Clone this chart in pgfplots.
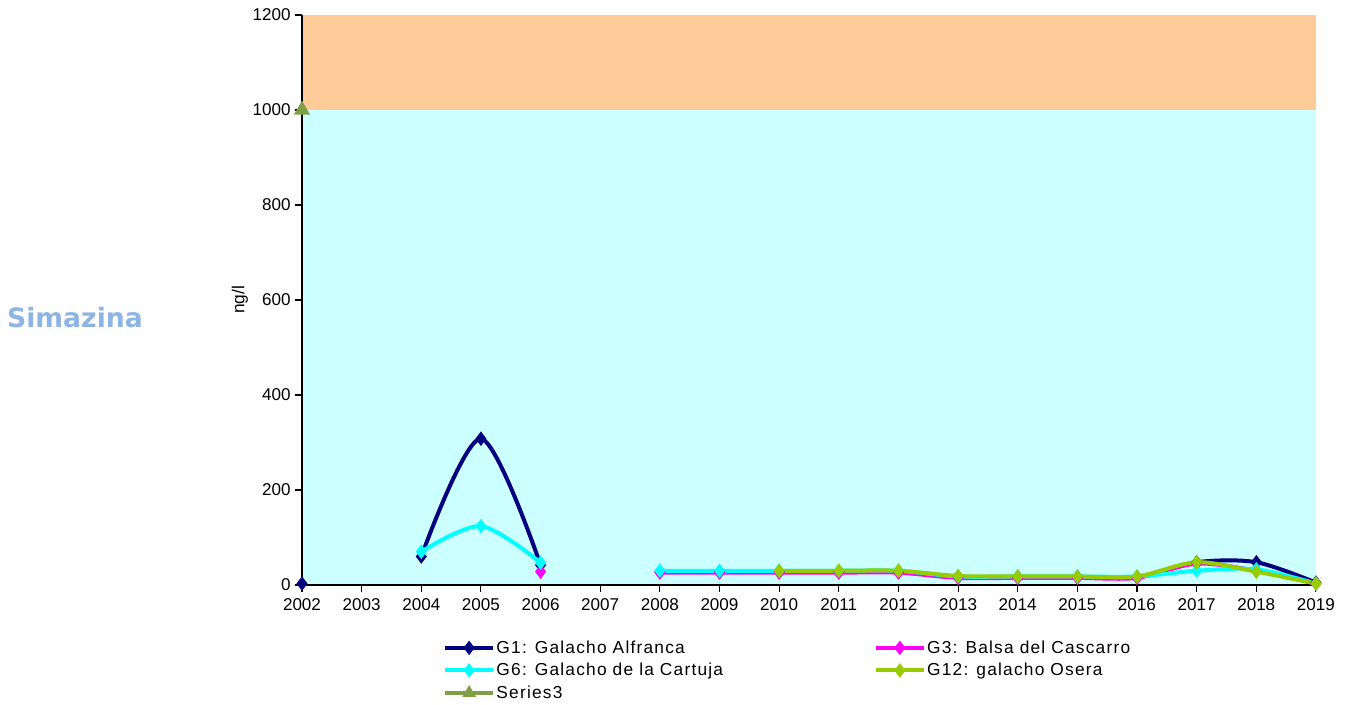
\documentclass[border=0pt]{standalone}
\usepackage{pgfplots}
\pgfplotsset{compat=1.18}
\usepackage{fontspec}
\setmainfont{Liberation Sans}
\newfontfamily\titlefont{DejaVu Sans}
\definecolor{gnavy}{HTML}{000080}
\definecolor{gmag}{HTML}{FF00FF}
\definecolor{gcyan}{HTML}{00FFFF}
\definecolor{glime}{HTML}{99CC00}
\definecolor{golive}{HTML}{7E9F46}
\definecolor{bgcyan}{HTML}{CCFFFF}
\definecolor{bgpeach}{HTML}{FFCC99}
\definecolor{titleblue}{HTML}{8DB4E2}

\begin{document}
\begin{tikzpicture}
\begin{axis}[
    set layers,
    scale only axis,
    width=760.5pt, height=427.5pt,
    xmin=2002, xmax=2019, ymin=0, ymax=1200,
    axis x line*=bottom, axis y line*=left,
    axis line style={-, black, line width=0.8pt},
    xtick={2002,...,2019},
    ytick={0,200,...,1200},
    tick align=outside,
    major tick length=5pt,
    tick style={black, line width=0.8pt},
    /pgf/number format/.cd, 1000 sep={}, assume math mode=true, /pgfplots/.cd,
    ticklabel style={font=\fontsize{12.8}{15}\selectfont},
    x tick label style={yshift=-2pt},
    ylabel={ng/l},
    ylabel style={at={(axis description cs:-0.0612,0.5)}, anchor=center, font=\fontsize{13}{15}\selectfont},
    legend columns=2,
    legend cell align=left,
    legend style={at={(axis description cs:0.135,-0.0877)}, anchor=north west,
        draw=none, fill=none, font=\fontsize{13}{15}\selectfont\addfontfeature{LetterSpace=7},
        nodes={inner xsep=1pt},
        /tikz/every even column/.append style={column sep=112pt},
        row sep=2pt},
    legend image code/.code={\draw[mark repeat=2,mark phase=2] plot coordinates {(0pt,0pt)(18pt,0pt)(36pt,0pt)};},
    every axis plot/.append style={line width=3pt, mark size=3pt},
]
% background bands
\addplot[draw=none, fill=bgpeach, on layer=axis background, forget plot] coordinates {(2002,1200) (2019,1200)} \closedcycle;
\addplot[draw=none, fill=bgcyan, on layer=axis background, forget plot] coordinates {(2002,1000) (2019,1000)} \closedcycle;

% G1: Galacho Alfranca
\addplot[gnavy, only marks, mark=diamond*, forget plot] coordinates {(2002,3)};
\addplot[gnavy, smooth, mark=diamond*, forget plot] coordinates {(2004,60) (2005,308) (2006,42)};
\addplot[gnavy, smooth, mark=diamond*, forget plot] coordinates {
    (2008,28) (2009,28) (2010,28) (2011,28) (2012,28) (2013,17) (2014,17)
    (2015,17) (2016,17) (2017,48) (2018,48) (2019,5)};
% G3: Balsa del Cascarro
\addplot[gmag, only marks, mark=diamond*, forget plot] coordinates {(2006,28)};
\addplot[gmag, smooth, mark=diamond*, forget plot] coordinates {
    (2008,26) (2009,26) (2010,26) (2011,26) (2012,26) (2013,15) (2014,15)
    (2015,15) (2016,15) (2017,45) (2018,30) (2019,3)};
% G6: Galacho de la Cartuja
\addplot[gcyan, smooth, mark=diamond*, forget plot] coordinates {(2004,70) (2005,124) (2006,47)};
\addplot[gcyan, smooth, mark=diamond*, forget plot] coordinates {
    (2008,30) (2009,30) (2010,30) (2011,30) (2012,30) (2013,18) (2014,18)
    (2015,18) (2016,18) (2017,30) (2018,33) (2019,3)};
% G12: galacho Osera
\addplot[glime, smooth, mark=diamond*, forget plot] coordinates {
    (2010,30) (2011,30) (2012,30) (2013,19) (2014,18) (2015,18) (2016,18)
    (2017,48) (2018,28) (2019,3)};
% Series3
\addplot[golive, only marks, mark=triangle*, mark size=4pt, forget plot] coordinates {(2002,1000)};

\addlegendimage{gnavy, mark=diamond*}
\addlegendentry{G1: Galacho Alfranca}
\addlegendimage{gmag, mark=diamond*}
\addlegendentry{G3: Balsa del Cascarro}
\addlegendimage{gcyan, mark=diamond*}
\addlegendentry{G6: Galacho de la Cartuja}
\addlegendimage{glime, mark=diamond*}
\addlegendentry{G12: galacho Osera}
\addlegendimage{golive, mark=triangle*}
\addlegendentry{Series3}
\end{axis}
\node[font=\titlefont\bfseries\fontsize{20}{24}\selectfont, text=titleblue] at (-170.25pt,200.25pt) {Simazina};
\pgfresetboundingbox
\useasboundingbox (-226.5pt,-89.25pt) rectangle (789pt,438.75pt);
\end{tikzpicture}
\end{document}
